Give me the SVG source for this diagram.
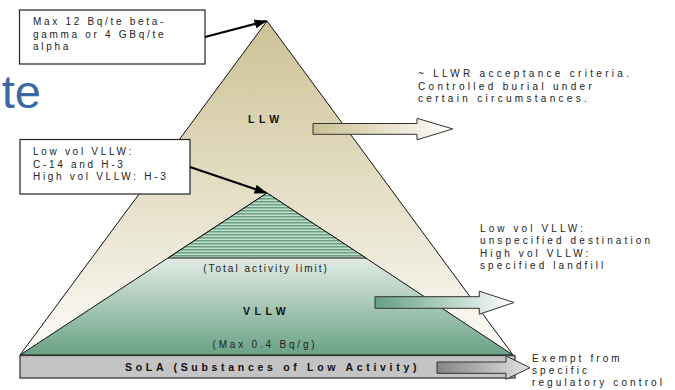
<svg xmlns="http://www.w3.org/2000/svg" width="675" height="390" viewBox="0 0 675 390">
<style>
.t{font-family:"Liberation Sans",Arial,sans-serif;font-size:10px;fill:#222;letter-spacing:2.7px}
.r{letter-spacing:3.1px}
.b{font-weight:bold;font-size:10.5px;fill:#111}
.box{fill:#fff;stroke:#222;stroke-width:1.2}
.edge{stroke:#111;stroke-width:1;stroke-linejoin:round}
.conn{stroke:#000;stroke-width:2.2;fill:none;marker-end:url(#ah)}
.arr{stroke:#333;stroke-width:1}
</style>
<defs>
<linearGradient id="gL" gradientUnits="userSpaceOnUse" x1="0" y1="21" x2="0" y2="355">
<stop offset="0" stop-color="#cdc196"/><stop offset="0.35" stop-color="#ddd5b6"/><stop offset="1" stop-color="#fdfcf9"/>
</linearGradient>
<linearGradient id="gV" gradientUnits="userSpaceOnUse" x1="0" y1="258" x2="0" y2="355">
<stop offset="0" stop-color="#e1ebe5"/><stop offset="1" stop-color="#6aa286"/>
</linearGradient>
<pattern id="hatch" width="4" height="3" patternUnits="userSpaceOnUse">
<rect width="4" height="3" fill="#c3dccb"/><rect width="4" height="1.5" fill="#66a080"/>
</pattern>
<linearGradient id="aL" x1="0" y1="0" x2="1" y2="0"><stop offset="0" stop-color="#cac093"/><stop offset="1" stop-color="#ffffff"/></linearGradient>
<linearGradient id="aV" x1="0" y1="0" x2="1" y2="0"><stop offset="0" stop-color="#66a083"/><stop offset="1" stop-color="#ffffff"/></linearGradient>
<linearGradient id="aS" x1="0" y1="0" x2="1" y2="0"><stop offset="0" stop-color="#858585"/><stop offset="1" stop-color="#e2e2e2"/></linearGradient>
<marker id="ah" markerWidth="13" markerHeight="9" refX="12" refY="4.5" orient="auto" markerUnits="userSpaceOnUse">
<path d="M0,0 L13,4.5 L0,9 z" fill="#000"/>
</marker>
</defs>

<text x="41" y="108" text-anchor="end" font-family="'Liberation Sans',Arial,sans-serif" font-size="47" fill="#3a6aa5">te</text>

<g id="llw">
<polygon points="267,21 20,355 513,355" fill="url(#gL)" class="edge"/>
<text class="t b" x="248" y="122.5" style="letter-spacing:4.5px">LLW</text>
</g>

<g id="vllw">
<polygon points="267,193 20,355 513,355" fill="url(#gV)" class="edge"/>
<polygon points="267,193 168,258 366,258" fill="url(#hatch)" class="edge"/>
<text class="t" x="266" y="272" text-anchor="middle" style="letter-spacing:2px">(Total activity limit)</text>
<text class="t b" x="243" y="315" style="letter-spacing:4.5px">VLLW</text>
<text class="t" x="265" y="348" text-anchor="middle" style="letter-spacing:2.8px">(Max 0.4 Bq/g)</text>
</g>

<g id="sola">
<rect x="20" y="355.5" width="495" height="22.5" fill="#c4c4c4" stroke="#3a3a3a" stroke-width="1.3"/>
<text class="t b" x="125" y="370.5" style="letter-spacing:3.7px">SoLA (Substances of Low Activity)</text>
</g>

<g id="arrows">
<polygon class="arr" points="313,123.5 417,123.5 417,118.3 452.7,128.9 417,139.8 417,134.3 313,134.3" fill="url(#aL)"/>
<polygon class="arr" points="375,296.7 479.3,296.7 479.3,291.2 514,302.5 479.3,314.2 479.3,308.3 375,308.3" fill="url(#aV)"/>
<polygon class="arr" points="437,362 506,362 506,356 530,367.7 506,379.3 506,373.3 437,373.3" fill="url(#aS)"/>
</g>

<g id="note1">
<rect class="box" x="19.5" y="10" width="185.5" height="54"/>
<text class="t" x="33" y="25.3">Max 12 Bq/te beta-</text>
<text class="t" x="33" y="37.7">gamma or 4 GBq/te</text>
<text class="t" x="33" y="50">alpha</text>
</g>

<g id="note2">
<rect class="box" x="20" y="139.5" width="170" height="54.5"/>
<text class="t" x="33" y="155">Low vol VLLW:</text>
<text class="t" x="33" y="167.5">C-14 and H-3</text>
<text class="t" x="33" y="180">High vol VLLW: H-3</text>
</g>

<g id="connectors">
<line class="conn" x1="205" y1="37" x2="266.5" y2="21"/>
<line class="conn" x1="190" y1="167" x2="266.5" y2="193"/>
</g>

<g id="desc-llw">
<text class="t r" x="418" y="77" style="letter-spacing:3.3px">~ LLWR acceptance criteria.</text>
<text class="t r" x="418" y="89.5" style="letter-spacing:3.3px">Controlled burial under</text>
<text class="t r" x="418" y="102" style="letter-spacing:3.3px">certain circumstances.</text>
</g>

<g id="desc-vllw">
<text class="t r" x="480" y="231.7">Low vol VLLW:</text>
<text class="t r" x="480" y="244.2">unspecified destination</text>
<text class="t r" x="480" y="256.7">High vol VLLW:</text>
<text class="t r" x="480" y="269">specified landfill</text>
</g>

<g id="desc-sola">
<text class="t r" x="532" y="361.7">Exempt from</text>
<text class="t r" x="532" y="374">specific</text>
<text class="t r" x="532" y="386.2">regulatory control</text>
</g>
</svg>
